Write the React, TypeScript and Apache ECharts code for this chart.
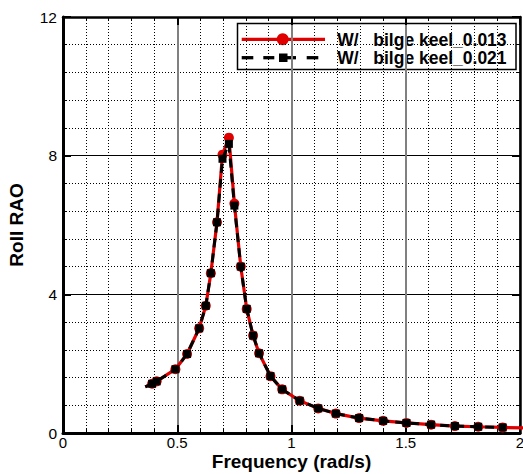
import React, { useEffect, useRef } from "react";
import * as echarts from "echarts";

// Frequency (rad/s) and Roll RAO values
const freqA = [0.36, 0.39, 0.41, 0.492, 0.543, 0.596, 0.625, 0.647, 0.674, 0.698, 0.726, 0.75, 0.778, 0.804, 0.832, 0.858, 0.908, 0.959, 1.036, 1.117, 1.194, 1.296, 1.401, 1.503, 1.611, 1.715, 1.817, 1.924, 2.05];
const raoA = [1.33, 1.42, 1.49, 1.84, 2.28, 3.02, 3.67, 4.61, 6.08, 8.03, 8.52, 6.62, 4.8, 3.58, 2.81, 2.3, 1.64, 1.26, 0.93, 0.71, 0.56, 0.43, 0.35, 0.29, 0.24, 0.2, 0.18, 0.16, 0.14];
const freqB = [0.36, 0.39, 0.41, 0.492, 0.543, 0.596, 0.625, 0.647, 0.674, 0.698, 0.726, 0.75, 0.778, 0.804, 0.832, 0.858, 0.908, 0.959, 1.036, 1.117, 1.194, 1.296, 1.401, 1.503, 1.611, 1.715, 1.817, 1.924];
const raoB = [1.33, 1.42, 1.49, 1.84, 2.28, 3.02, 3.67, 4.61, 6.08, 7.91, 8.34, 6.56, 4.8, 3.58, 2.81, 2.3, 1.64, 1.26, 0.93, 0.71, 0.56, 0.43, 0.35, 0.29, 0.24, 0.2, 0.18, 0.16];

const seriesNames = ["W/   bilge keel_0.013", "W/   bilge keel_0.021"];
const legendPrefix = "W/";
const legendLabels = ["bilge keel_0.013", "bilge keel_0.021"];
const xTitle = "Frequency (rad/s)";
const yTitle = "Roll RAO";

const FONT = "'Liberation Sans', Arial, Helvetica, sans-serif";
const RED = "#e00000";

function toData(xs: number[], ys: number[]) {
  return xs.map((x, i) => (i === 0 ? { value: [x, ys[i]], symbol: "none" } : [x, ys[i]]));
}

export default function App() {
  const ref = useRef<HTMLDivElement>(null);
  useEffect(() => {
    if (!ref.current) return;
    const chart = echarts.init(ref.current, undefined, { renderer: "svg" });
    const axisCommon = {
      type: "value" as const,
      axisLine: { show: true, onZero: false, lineStyle: { color: "#000", width: 3 } },
      axisTick: { show: true, inside: true, length: 8, lineStyle: { color: "#000", width: 2 } },
      minorTick: { show: true, splitNumber: 5, length: 4, lineStyle: { color: "#000", width: 1 } },
    };
    chart.setOption({
      animation: false,
      backgroundColor: "#fff",
      grid: { left: 63, right: 3, top: 17, bottom: 41, containLabel: false, outerBoundsMode: "none" },
      xAxis: [
        {
          ...axisCommon,
          min: 0,
          max: 2,
          interval: 0.5,
          position: "bottom",
          splitLine: { show: true, lineStyle: { color: "#808080", width: 2 } },
          minorSplitLine: { show: true, lineStyle: { color: "#000", width: 1, type: [1, 2] } },
          axisLabel: { color: "#000", fontSize: 15, fontFamily: FONT, margin: 3, lineHeight: 13 },
          name: xTitle,
          nameLocation: "middle",
          nameGap: 19,
          nameMoveOverlap: false,
          nameTextStyle: { color: "#000", fontSize: 19, fontWeight: "bold", fontFamily: FONT, verticalAlign: "top", lineHeight: 19 },
        },
        {
          ...axisCommon,
          min: 0,
          max: 2,
          interval: 0.5,
          position: "top",
          axisLine: { show: true, onZero: false, lineStyle: { color: "#000", width: 2.5 } },
          axisLabel: { show: false },
          splitLine: { show: false },
        },
      ],
      yAxis: [
        {
          ...axisCommon,
          min: 0,
          max: 12,
          interval: 4,
          position: "left",
          splitLine: { show: true, lineStyle: { color: "#000", width: 1 } },
          minorSplitLine: { show: true, lineStyle: { color: "#000", width: 1, type: [1, 2] } },
          axisLabel: { color: "#000", fontSize: 15.5, fontFamily: FONT, margin: 6 },
          name: yTitle,
          nameLocation: "middle",
          nameGap: 37,
          nameRotate: 90,
          nameTextStyle: { color: "#000", fontSize: 19, fontWeight: "bold", fontFamily: FONT },
        },
        {
          ...axisCommon,
          min: 0,
          max: 12,
          interval: 4,
          position: "right",
          axisLine: { show: true, onZero: false, lineStyle: { color: "#000", width: 2.5 } },
          axisLabel: { show: false },
          splitLine: { show: false },
        },
      ],
      series: [
        {
          type: "line",
          name: seriesNames[0],
          data: toData(freqA, raoA),
          symbol: "circle",
          symbolSize: 10,
          lineStyle: { color: RED, width: 3.2 },
          itemStyle: { color: RED },
          z: 2,
        },
        {
          type: "line",
          name: seriesNames[1],
          data: toData(freqB, raoB),
          symbol: "rect",
          symbolSize: 8,
          lineStyle: { color: "#000", width: 3, type: [9, 6] },
          itemStyle: { color: "#000" },
          z: 3,
        },
      ],
      graphic: [
        {
          type: "group",
          z: 100,
          children: [
            { type: "rect", shape: { x: 237.5, y: 23.5, width: 278.5, height: 46 }, style: { fill: "#fff", stroke: "#000", lineWidth: 1.5 } },
            { type: "line", shape: { x1: 241.7, y1: 39.3, x2: 325, y2: 39.3 }, style: { stroke: RED, lineWidth: 3.3 } },
            { type: "circle", shape: { cx: 282.7, cy: 39.3, r: 6 }, style: { fill: RED } },
            { type: "line", shape: { x1: 241.7, y1: 57.7, x2: 253.3, y2: 57.7 }, style: { stroke: "#000", lineWidth: 3.3 } },
            { type: "line", shape: { x1: 263.3, y1: 57.7, x2: 274.3, y2: 57.7 }, style: { stroke: "#000", lineWidth: 3.3 } },
            { type: "line", shape: { x1: 283, y1: 57.7, x2: 296, y2: 57.7 }, style: { stroke: "#000", lineWidth: 3.3 } },
            { type: "line", shape: { x1: 306.7, y1: 57.7, x2: 318.3, y2: 57.7 }, style: { stroke: "#000", lineWidth: 3.3 } },
            { type: "rect", shape: { x: 279, y: 53.5, width: 8.5, height: 8.5 }, style: { fill: "#000" } },
            { type: "text", x: 337.3, y: 39.5, style: { text: legendPrefix, font: `bold 17.5px ${FONT}`, fill: "#000", textVerticalAlign: "middle", verticalAlign: "middle" } },
            { type: "text", x: 373.3, y: 39.5, style: { text: legendLabels[0], font: `bold 17.5px ${FONT}`, fill: "#000", textVerticalAlign: "middle", verticalAlign: "middle" } },
            { type: "text", x: 337.3, y: 57.9, style: { text: legendPrefix, font: `bold 17.5px ${FONT}`, fill: "#000", textVerticalAlign: "middle", verticalAlign: "middle" } },
            { type: "text", x: 373.3, y: 57.9, style: { text: legendLabels[1], font: `bold 17.5px ${FONT}`, fill: "#000", textVerticalAlign: "middle", verticalAlign: "middle" } },
          ],
        },
      ],
    });
    return () => chart.dispose();
  }, []);
  return <div ref={ref} style={{ position: "fixed", left: 0, top: 0, width: 523, height: 474, background: "#fff" }} />;
}
